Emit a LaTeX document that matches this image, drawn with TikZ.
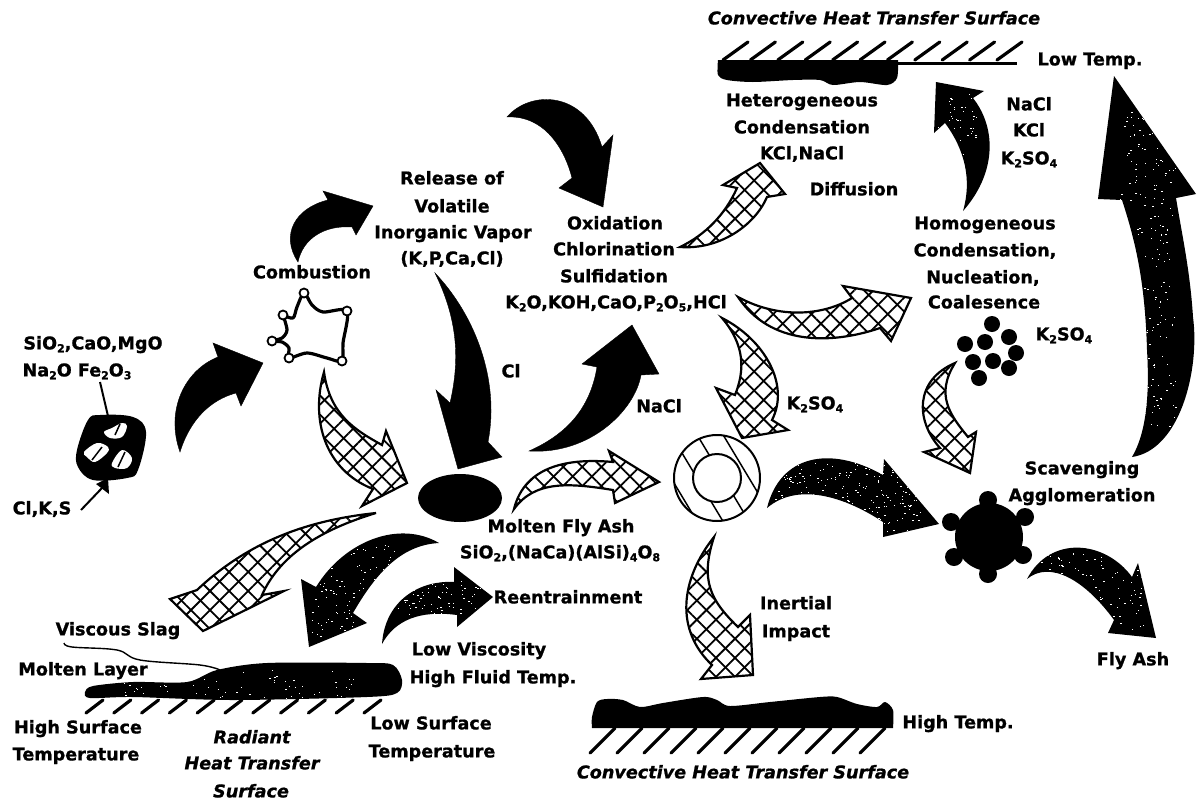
\documentclass[tikz,border=0pt]{standalone}
\usepackage{fontspec}
\setmainfont{DejaVu Sans}[BoldFeatures={FakeBold=1},BoldItalicFeatures={FakeBold=1}]
\usetikzlibrary{patterns.meta,shapes.geometric}
% Two-way lattice used inside the open arrows
\tikzset{
  lbltext/.style={anchor=base,inner sep=0pt,font=\fontsize{17.6}{18}\selectfont\bfseries},
  lblslant/.style={anchor=base,inner sep=0pt,font=\fontsize{17.6}{18}\selectfont\bfseries\itshape},
  solidarrow/.style={fill=black,draw=black,line width=0.4pt,line join=miter},
  latticearrow/.style={
    fill=white,draw=black,line width=2.2pt,line join=miter,
    postaction={pattern={Lines[angle=45,distance=13.5pt,line width=1.8pt]}},
    postaction={pattern={Lines[angle=-45,distance=13.5pt,line width=1.8pt]}}},
  tick/.style={line width=3.2pt,line cap=round},
  leader/.style={line width=2pt},
  dotblob/.style={circle,fill=black,inner sep=0pt,minimum size=#1},
  vertexmark/.style={circle,draw=black,fill=white,line width=1.8pt,inner sep=0pt,minimum size=9pt}
}
% \lbl{name}{x}{y}{text}: x,y give the middle of the capitals
\newcommand\lbl[4]{\path (#2,#3) +(0,6.4) node[lbltext] (#1) {#4};}
\newcommand\lbs[4]{\path (#2,#3) +(0,6.4) node[lblslant] (#1) {#4};}
\newcommand\dn[1]{\raisebox{-0.3ex}{\fontsize{11}{11}\selectfont #1}}
% \mottled{path}{x0}{y0}{w}{h}{count}: dark arrow with white flecks
\newcommand\mottled[6]{%
  \fill[black] #1;
  \begin{scope}
    \clip #1;
    \foreach \k in {1,...,#6}{
      \pgfmathsetmacro\fx{#2+rnd*#4}
      \pgfmathsetmacro\fy{#3+rnd*#5}
      \pgfmathsetmacro\fw{0.6+rnd*1.2}
      \fill[white] (\fx,\fy) rectangle ++(\fw,0.8);
    }
  \end{scope}}
\begin{document}
\begin{tikzpicture}[x=1pt,y=-1pt]
\useasboundingbox (0,0) rectangle (1200,801);
\pgfmathsetseed{4217}

% ---- solid arrows
\fill[solidarrow] (180,452) .. controls (165,410) and (185,370) .. (218,357) -- (213,343) -- (263,363) -- (241,406) -- (236,393) .. controls (210,400) and (190,420) .. (180,452) -- cycle;
\fill[solidarrow] (298,262) .. controls (280,235) and (295,208) .. (328,200) -- (323,191) -- (373,206) -- (356,235) -- (352,227) .. controls (325,225) and (303,238) .. (298,262) -- cycle;
\fill[solidarrow] (507,117) .. controls (530,90) and (585,90) .. (602,147) -- (613,135) -- (603,207) -- (559,188) -- (572,178) .. controls (565,150) and (545,115) .. (507,117) -- cycle;
\fill[solidarrow] (435,273) .. controls (475,315) and (500,380) .. (488,442) -- (502,457) -- (458,469) -- (436,390) -- (450,403) .. controls (460,360) and (458,320) .. (435,273) -- cycle;
\fill[solidarrow] (529,451) .. controls (590,455) and (635,410) .. (641,375) -- (659,374) -- (632,325) -- (582,364) -- (597,367) .. controls (590,410) and (565,435) .. (529,451) -- cycle;
\mottled{(963,211) .. controls (995,175) and (998,130) .. (973,98) -- (984,91) -- (936,82) -- (934,133) -- (945,123) .. controls (965,150) and (972,180) .. (963,211) -- cycle}{936}{90}{40}{70}{40}

% ---- flecked arrows
\mottled{(1132,457) .. controls (1180,450) and (1200,370) .. (1193,317) .. controls (1190,270) and (1182,235) .. (1176,198) -- (1196,194) -- (1114,76) -- (1098,199) -- (1122,200) .. controls (1135,240) and (1145,280) .. (1147,350) .. controls (1150,400) and (1145,435) .. (1132,457) -- cycle}{1120}{110}{55}{320}{220}
\mottled{(767,508) .. controls (780,455) and (830,445) .. (883,475) -- (884,459) -- (939,524) -- (883,537) -- (883,522) .. controls (850,500) and (800,480) .. (767,508) -- cycle}{770}{462}{150}{70}{240}
\mottled{(1027,579) .. controls (1050,535) and (1105,540) .. (1132,577) -- (1138,563) -- (1156,638) -- (1108,633) -- (1114,620) .. controls (1085,580) and (1050,560) .. (1027,579) -- cycle}{1040}{550}{105}{80}{130}
\mottled{(439,543) .. controls (400,520) and (345,540) .. (316,587) -- (301,579) -- (309,647) -- (367,623) -- (353,613) .. controls (375,575) and (400,545) .. (439,543) -- cycle}{310}{540}{85}{100}{130}
\mottled{(382,644) .. controls (385,600) and (420,580) .. (454,582) -- (454,567) -- (493,597) -- (457,627) -- (457,615) .. controls (420,610) and (395,620) .. (382,644) -- cycle}{390}{580}{90}{40}{80}

% ---- lattice arrows
\path[latticearrow] (324,372) .. controls (310,420) and (325,470) .. (373,489) -- (362,506) -- (407,483) -- (386,431) -- (382,445) .. controls (355,430) and (330,415) .. (324,372) -- cycle;
\path[latticearrow] (376,513) .. controls (310,520) and (250,540) .. (197,590) -- (170,599) -- (203,631) -- (284,591) -- (262,595) .. controls (280,555) and (320,530) .. (376,513) -- cycle;
\path[latticearrow] (514,509) .. controls (525,465) and (570,458) .. (613,462) -- (609,451) -- (659,482) -- (615,503) -- (613,490) .. controls (570,483) and (535,480) .. (514,509) -- cycle;
\path[latticearrow] (680,247) .. controls (720,250) and (755,225) .. (767,197) -- (785,194) -- (760,163) -- (723,185) -- (737,188) .. controls (725,215) and (705,235) .. (680,247) -- cycle;
\path[latticearrow] (738,297) .. controls (780,320) and (825,315) .. (852,298) -- (843,286) -- (911,298) -- (891,341) -- (880,328) .. controls (830,345) and (770,345) .. (738,297) -- cycle;
\path[latticearrow] (722,318) .. controls (765,340) and (790,385) .. (772,420) -- (788,430) -- (742,438) -- (716,388) -- (735,395) .. controls (745,370) and (745,345) .. (722,318) -- cycle;
\path[latticearrow] (955,363) .. controls (915,380) and (915,420) .. (940,448) -- (924,452) -- (970,473) -- (976,432) -- (968,437) .. controls (950,415) and (935,395) .. (955,363) -- cycle;
\path[latticearrow] (714,537) .. controls (680,580) and (675,630) .. (712,665) -- (701,679) -- (753,675) -- (750,615) -- (738,627) .. controls (710,600) and (700,580) .. (714,537) -- cycle;

% ---- coal particle with mineral inclusions
\fill[black] plot[smooth cycle,tension=.6] coordinates {(100,415) (133,417) (146,432) (138,470) (127,478) (93,480) (78,467) (77,450) (88,420)};
\fill[white] plot[smooth cycle,tension=.6] coordinates {(104,432) (112,428) (122,423) (127,426) (122,437) (110,438)};
\fill[white] plot[smooth cycle,tension=.6] coordinates {(84,452) (97,443) (108,447) (107,453) (95,462) (87,457)};
\fill[white] plot[smooth cycle,tension=.6] coordinates {(112,463) (122,450) (132,458) (127,468) (115,468)};
\draw[black,line width=1.5pt] (120,424) -- (115,435);
\draw[black,line width=1.5pt] (102,447) -- (92,460);
\draw[black,line width=1.5pt] (125,452) -- (118,467);

% ---- particle burning outline
\draw[line width=3.2pt,line join=round] plot[smooth,tension=.5] coordinates {(283,315) (287,330) (282,338) (272,341) (282,342) (289,348) (289,358) (307,353) (327,358) (342,361) (343,343) (347,311) (323,312) (312,305) (304,293) (297,307) (293,318) (283,315)};
\foreach \n/\x/\y in {a/304/293,b/347/311,c/342/361,d/289/358,e/272/341,f/283/315}
  \node[vertexmark] (vert\n) at (\x,\y) {};

% ---- molten droplet
\node[ellipse,fill=black,minimum width=84pt,minimum height=48pt,inner sep=0pt] (molten) at (460,498) {};

% ---- coated ring
\begin{scope}
  \clip (717,478) circle (43);
  \foreach \s in {-72,-46,-20,6,32,58}
    \draw[line width=1.5pt] (717+\s-30,478-50) -- (717+\s+30,478+50);
\end{scope}
\node[circle,draw=black,line width=2pt,minimum size=86pt,inner sep=0pt] (ringout) at (717,478) {};
\node[circle,draw=black,fill=white,line width=2pt,minimum size=48pt,inner sep=0pt] (ringin) at (717,478) {};

% ---- agglomerate
\node[dotblob=68pt] (core) at (989,537) {};
\foreach \n/\x/\y in {a/988/500,b/1025/517,c/1023/555,d/988/574,e/954/557,f/951/522}
  \node[dotblob=18pt] (sat\n) at (\x,\y) {};

% ---- condensed droplets
\foreach \n/\x/\y in {a/992/324,b/1009/337,c/985/342,d/965/344,e/1016/353,f/993/361,g/973/362,h/1009/368,i/979/378}
  \node[dotblob=16pt] (drop\n) at (\x,\y) {};

% ---- upper convective surface
\draw[line width=3pt] (718,63) -- (1017,63);
\foreach \i in {0,...,10}
  \draw[tick] (723+27.4*\i,60) -- (748+27.4*\i,42);
\fill[black] plot[smooth,tension=.5] coordinates {(718,60) (718,75) (727,80) (753,82) (793,80) (820,80) (833,85) (860,82) (887,85) (897,78) (898,60)} -- cycle;

% ---- lower convective surface
\fill[black] plot[smooth,tension=.5] coordinates {(592,728) (592,717) (597,702) (607,699) (623,700) (640,707) (663,703) (703,697) (717,700) (730,706) (770,702) (820,697) (837,697) (857,704) (877,707) (885,702) (893,710) (893,728)} -- cycle;
\foreach \i in {0,...,10}
  \draw[tick] (615+27*\i,728) -- (590+27*\i,753);

% ---- radiant surface deposit
\mottled{plot[smooth cycle,tension=.5] coordinates {(85,692) (93,686) (133,682) (187,682) (217,670) (267,663) (367,663) (393,665) (402,680) (397,693) (367,697) (233,700) (133,697) (90,698)}}{120}{670}{240}{30}{70}
\foreach \i in {0,...,10}
  \draw[tick] (103+27.8*\i,700) -- (86+27.8*\i,713);
\coordinate (slagend) at (64,643);
\coordinate (slagjoin) at (220,670);
\draw[line width=1.4pt] plot[smooth,tension=.6] coordinates {(slagend) (72,647) (117,650) (140,660) (200,665) (slagjoin)};

% ---- labels
\lbs{convtop}{874}{18}{Convective Heat Transfer Surface}
\lbl{lowtemp}{1090}{59}{Low Temp.}
\lbl{hetero}{802}{100}{Heterogeneous}
\lbl{condh}{802}{127}{Condensation}
\lbl{kclnacl}{802}{153}{KCl,NaCl}
\lbl{diffus}{854}{189}{Diffusion}
\lbl{nacla}{1029}{104}{NaCl}
\lbl{kcla}{1029}{130}{KCl}
\lbl{ksoa}{1029}{158}{K\dn{2}SO\dn{4}}
\lbl{homog}{985}{223}{Homogeneous}
\lbl{condn}{985}{250}{Condensation,}
\lbl{nucl}{983}{277}{Nucleation,}
\lbl{coal}{984}{302}{Coalesence}
\lbl{ksob}{1064}{334}{K\dn{2}SO\dn{4}}
\lbl{rel}{452}{178}{Release of}
\lbl{vol}{452}{206}{Volatile}
\lbl{inorg}{453}{232}{Inorganic Vapor}
\lbl{kpca}{452}{258}{(K,P,Ca,Cl)}
\lbl{combust}{312}{272}{Combustion}
\lbl{oxid}{615}{223}{Oxidation}
\lbl{chlor}{614}{249}{Chlorination}
\lbl{sulf}{614}{276}{Sulfidation}
\lbl{oxlist}{616}{302}{K\dn{2}O,KOH,CaO,P\dn{2}O\dn{5},HCl}
\lbl{clb}{511}{371}{Cl}
\lbl{naclb}{659}{406}{NaCl}
\lbl{flyash}{561}{526}{Molten Fly Ash}
\lbl{ashform}{560}{552}{SiO\dn{2},(NaCa)(AlSi)\dn{4}O\dn{8}}
\lbl{ksoc}{815}{403}{K\dn{2}SO\dn{4}}
\lbl{reent}{568}{597}{Reentrainment}
\lbl{lowvis}{479}{649}{Low Viscosity}
\lbl{hifluid}{493}{677}{High Fluid Temp.}
\lbl{oxidesa}{93}{343}{SiO\dn{2},CaO,MgO}
\lbl{oxidesb}{77}{370}{Na\dn{2}O Fe\dn{2}O\dn{3}}
\lbl{clks}{42}{508}{Cl,K,S}
\lbl{visc}{118}{629}{Viscous Slag}
\lbl{molay}{83}{669}{Molten Layer}
\lbl{hisurf}{78}{727}{High Surface}
\lbl{hitemp}{76}{754}{Temperature}
\lbs{radiant}{252}{737}{Radiant}
\lbs{heattr}{252}{763}{Heat Transfer}
\lbs{surfc}{251}{791}{Surface}
\lbl{losurf}{431}{723}{Low Surface}
\lbl{lotemp}{432}{751}{Temperature}
\lbl{inert}{796}{603}{Inertial}
\lbl{impact}{796}{631}{Impact}
\lbl{hightemp}{958}{722}{High Temp.}
\lbs{convbot}{743}{772}{Convective Heat Transfer Surface}
\lbl{scav}{1082}{468}{Scavenging}
\lbl{agglom}{1082}{495}{Agglomeration}
\lbl{flyout}{1133}{659}{Fly Ash}

% ---- leaders to the coal particle
\coordinate (partop) at (108,416);
\coordinate (parbot) at (108,478);
\coordinate (clkstail) at (81,510);
\draw[leader] (100,382) -- (partop);
\draw[leader] (clkstail) -- (102,488);
\fill[black] (parbot) -- (109,494) -- (96,484) -- cycle;
\end{tikzpicture}
\end{document}
